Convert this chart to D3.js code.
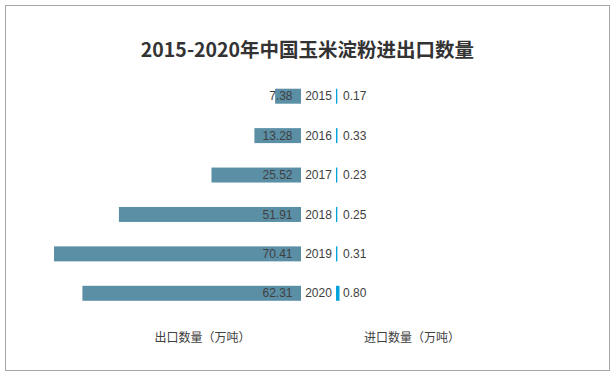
<!DOCTYPE html>
<html><head><meta charset="utf-8">
<script src="https://cdn.jsdelivr.net/npm/d3@7"></script>
<style>body{margin:0;background:#fff;}svg{display:block;}</style>
</head><body>
<svg id="chart" width="615" height="376"></svg>
<script>
const years = ["2015","2016","2017","2018","2019","2020"];
const exportValues = [7.38, 13.28, 25.52, 51.91, 70.41, 62.31];
const importValues = [0.17, 0.33, 0.23, 0.25, 0.31, 0.80];
const title = "2015-2020年中国玉米淀粉进出口数量";
const exportLabel = "出口数量（万吨）";
const importLabel = "进口数量（万吨）";

const svg = d3.select("#chart");
svg.append("rect").attr("x",5.5).attr("y",5.5).attr("width",604).attr("height",365)
  .attr("fill","#fff").attr("stroke","#a6a6a6").attr("stroke-width",1);

svg.append("text").attr("x",307.5).attr("y",57).attr("text-anchor","middle")
  .attr("font-family","'Noto Sans CJK SC', sans-serif").attr("font-weight","bold")
  .attr("font-size",19.5).attr("fill","#333").text(title);

const y = d3.scaleBand().domain(years).range([76.5,313]).paddingInner(0.62).paddingOuter(0.31);
const xExp = d3.scaleLinear().domain([0,70.41]).range([0,247]);
const xImp = d3.scaleLinear().domain([0,0.8]).range([0,3.5]);
const exportRight = 301, importLeft = 336;

const rows = years.map((yr,i)=>({yr, e:exportValues[i], im:importValues[i]}));

svg.selectAll("rect.exp").data(rows).join("rect").attr("class","exp")
  .attr("x",d=>exportRight - xExp(d.e)).attr("y",d=>y(d.yr))
  .attr("width",d=>xExp(d.e)).attr("height",y.bandwidth()).attr("fill","#5b8fa6");

svg.selectAll("rect.imp").data(rows).join("rect").attr("class","imp")
  .attr("x",importLeft).attr("y",d=>y(d.yr))
  .attr("width",d=>Math.max(xImp(d.im),1.3)).attr("height",y.bandwidth()).attr("fill","#00a3dc");

const tf = "'Liberation Sans', Arial, sans-serif";
svg.selectAll("text.ev").data(rows).join("text").attr("class","ev")
  .attr("x",exportRight-8.5).attr("y",d=>y(d.yr)+y.bandwidth()/2)
  .attr("dy","0.35em").attr("text-anchor","end").attr("font-family",tf)
  .attr("font-size",12).attr("fill","#404040").text(d=>d.e.toFixed(2));

svg.selectAll("text.yr").data(rows).join("text").attr("class","yr")
  .attr("x",318.5).attr("y",d=>y(d.yr)+y.bandwidth()/2)
  .attr("dy","0.35em").attr("text-anchor","middle").attr("font-family",tf)
  .attr("font-size",12).attr("fill","#404040").text(d=>d.yr);

svg.selectAll("text.iv").data(rows).join("text").attr("class","iv")
  .attr("x",343).attr("y",d=>y(d.yr)+y.bandwidth()/2)
  .attr("dy","0.35em").attr("text-anchor","start").attr("font-family",tf)
  .attr("font-size",12).attr("fill","#404040").text(d=>d.im.toFixed(2));

const cf = "'Noto Sans CJK SC', sans-serif";
svg.append("text").attr("x",202.5).attr("y",338).attr("dy","0.35em").attr("text-anchor","middle")
  .attr("font-family",cf).attr("font-size",12).attr("fill","#404040").text(exportLabel);
svg.append("text").attr("x",412).attr("y",338).attr("dy","0.35em").attr("text-anchor","middle")
  .attr("font-family",cf).attr("font-size",12).attr("fill","#404040").text(importLabel);
</script>
</body></html>
